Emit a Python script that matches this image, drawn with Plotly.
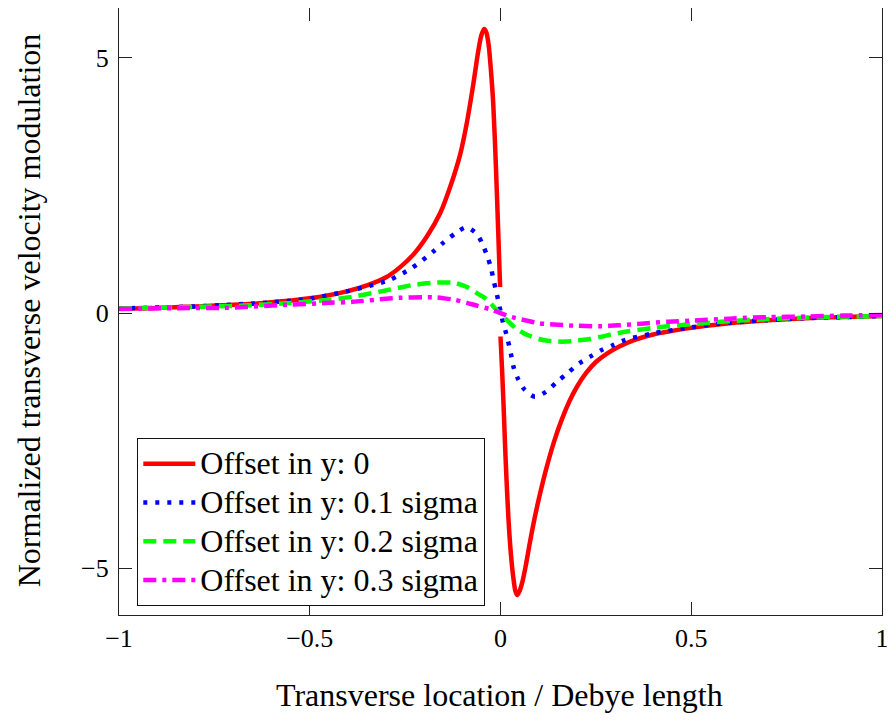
import plotly.graph_objects as go

# ---- data ----
red_left_x = [-1.0, -0.9, -0.8, -0.7, -0.6, -0.5, -0.45, -0.4, -0.35, -0.3, -0.263, -0.228, -0.193,
              -0.158, -0.132, -0.106, -0.089, -0.071, -0.058, -0.05, -0.043, -0.037, -0.031,
              -0.025, -0.019, -0.012, -0.006, -0.001]
red_left_y = [0.09, 0.10, 0.13, 0.16, 0.21, 0.29, 0.35, 0.43, 0.54, 0.70, 0.90, 1.15, 1.50,
              1.96, 2.47, 3.1, 3.7, 4.5, 5.15, 5.45, 5.57, 5.5, 5.25,
              4.75, 4.1, 2.87, 1.6, 0.51]
red_right_x = [0.0, 0.004, 0.008, 0.012, 0.016, 0.021, 0.027, 0.033, 0.039, 0.044, 0.05, 0.057,
               0.065, 0.077, 0.09, 0.105, 0.12, 0.14, 0.16, 0.18, 0.2, 0.225, 0.25, 0.28, 0.31,
               0.35, 0.4, 0.45, 0.5, 0.6, 0.7, 0.8, 0.9, 1.0]
red_right_y = [-0.46, -1.1, -1.8, -2.6, -3.3, -4.05, -4.7, -5.15, -5.45, -5.53, -5.45, -5.28,
               -5.0, -4.5, -4.0, -3.5, -3.05, -2.53, -2.1, -1.74, -1.45, -1.17, -0.96, -0.79, -0.66,
               -0.53, -0.42, -0.35, -0.29, -0.2, -0.14, -0.10, -0.08, -0.06]

blue_x = [-1.0, -0.8, -0.6, -0.5, -0.4, -0.32, -0.29, -0.233, -0.177, -0.148, -0.117, -0.089,
          -0.062, -0.046, -0.035, -0.025, -0.019, -0.012, -0.006, 0.007, 0.016, 0.029, 0.035,
          0.047, 0.064, 0.09, 0.12, 0.148, 0.177, 0.206, 0.234, 0.264, 0.295, 0.326, 0.4, 0.5,
          0.6, 0.7, 0.8, 0.9, 1.0]
blue_y = [0.09, 0.13, 0.21, 0.28, 0.43, 0.58, 0.65, 0.88, 1.2, 1.39, 1.57, 1.68,
          1.55, 1.33, 1.12, 0.89, 0.67, 0.45, 0.25, -0.2, -0.43, -0.86, -1.08,
          -1.31, -1.51, -1.64, -1.54, -1.35, -1.17, -0.99, -0.86, -0.73, -0.63, -0.53, -0.4, -0.28,
          -0.19, -0.14, -0.10, -0.08, -0.06]

green_x = [-1.0, -0.8, -0.7, -0.56, -0.45, -0.387, -0.316, -0.263, -0.229, -0.18, -0.15, -0.12,
           -0.088, -0.06, -0.036, -0.015, 0.0, 0.017, 0.04, 0.06, 0.077, 0.1, 0.12, 0.15, 0.172,
           0.2, 0.226, 0.26, 0.31, 0.4, 0.5, 0.6, 0.7, 0.8, 0.9, 1.0]
green_y = [0.09, 0.12, 0.14, 0.19, 0.26, 0.32, 0.42, 0.5, 0.55, 0.59, 0.6, 0.59,
           0.51, 0.38, 0.27, 0.1, -0.02, -0.14, -0.3, -0.39, -0.45, -0.51, -0.54, -0.56, -0.56,
           -0.54, -0.52, -0.47, -0.39, -0.29, -0.22, -0.16, -0.12, -0.09, -0.07, -0.06]

magenta_x = [-1.0, -0.8, -0.735, -0.56, -0.45, -0.387, -0.3, -0.263, -0.2, -0.177, -0.15, -0.12,
             -0.088, -0.06, -0.03, 0.0, 0.017, 0.04, 0.07, 0.1, 0.15, 0.2, 0.26, 0.31, 0.37, 0.44,
             0.5, 0.6, 0.7, 0.8, 0.9, 1.0]
magenta_y = [0.08, 0.1, 0.1, 0.16, 0.2, 0.22, 0.28, 0.3, 0.31, 0.31, 0.29, 0.26,
             0.2, 0.14, 0.08, 0.0, -0.05, -0.1, -0.15, -0.2, -0.23, -0.25, -0.26, -0.24, -0.21, -0.17,
             -0.15, -0.11, -0.08, -0.07, -0.05, -0.04]

names = ["Offset in y: 0", "Offset in y: 0.1 sigma", "Offset in y: 0.2 sigma", "Offset in y: 0.3 sigma"]

x_ticks = [-1, -0.5, 0, 0.5, 1]
x_ticktext = ["\u22121", "\u22120.5", "0", "0.5", "1"]
y_ticks = [-5, 0, 5]
y_ticktext = ["\u22125", "0", "5"]

FONT = "Liberation Serif, Times New Roman, serif"


def big(s):
    return "<span style='font-size:32px'>" + s + "</span>"


fig = go.Figure()
fig.add_trace(go.Scatter(x=red_left_x + [None] + red_right_x, y=red_left_y + [None] + red_right_y,
                         mode="lines", name=big(names[0]), connectgaps=False,
                         line=dict(color="#ff0000", width=4.5, shape="spline", smoothing=0.8)))
fig.add_trace(go.Scatter(x=blue_x, y=blue_y, mode="lines", name=big(names[1]),
                         line=dict(color="#0000ff", width=4.5, dash="4px,8px", shape="spline", smoothing=0.8)))
fig.add_trace(go.Scatter(x=green_x, y=green_y, mode="lines", name=big(names[2]),
                         line=dict(color="#00ff00", width=4.5, dash="13px,7px", shape="spline", smoothing=0.8)))
fig.add_trace(go.Scatter(x=magenta_x, y=magenta_y, mode="lines", name=big(names[3]),
                         line=dict(color="#ff00ff", width=4.5, dash="13px,6px,4px,6px", shape="spline", smoothing=0.8)))

axis_common = dict(showgrid=False, zeroline=False, showline=True, linecolor="#222222", linewidth=1.3,
                   mirror="ticks", ticks="inside", ticklen=13, tickwidth=1.3, tickcolor="#222222",
                   tickfont=dict(family=FONT, size=26, color="black"))

fig.update_xaxes(range=[-1, 1], tickvals=x_ticks, ticktext=x_ticktext, ticklabelstandoff=0, **axis_common)
fig.update_yaxes(range=[-5.92, 5.98], tickvals=y_ticks, ticktext=y_ticktext, ticklabelstandoff=4, **axis_common)

fig.update_layout(
    width=887, height=713,
    margin=dict(l=111, r=13, t=0, b=106),
    paper_bgcolor="white", plot_bgcolor="white",
    font=dict(family=FONT, size=32, color="black"),
    showlegend=True,
    legend=dict(x=0.0236, y=0.2916, xanchor="left", yanchor="top",
                bgcolor="white", bordercolor="#111111", borderwidth=1.3, itemwidth=52,
                font=dict(family=FONT, size=27.5, color="black"), tracegroupgap=0),
    annotations=[
        dict(text="Transverse location / Debye length", xref="paper", yref="paper",
             x=0.4993, y=-0.132, xanchor="center", yanchor="middle", showarrow=False,
             font=dict(family=FONT, size=32, color="black")),
        dict(text="Normalized transverse velocity modulation", xref="paper", yref="paper",
             x=-0.118, y=0.502, xanchor="center", yanchor="middle", textangle=-90, showarrow=False,
             font=dict(family=FONT, size=32, color="black")),
    ],
)

fig.write_html("out.html")
